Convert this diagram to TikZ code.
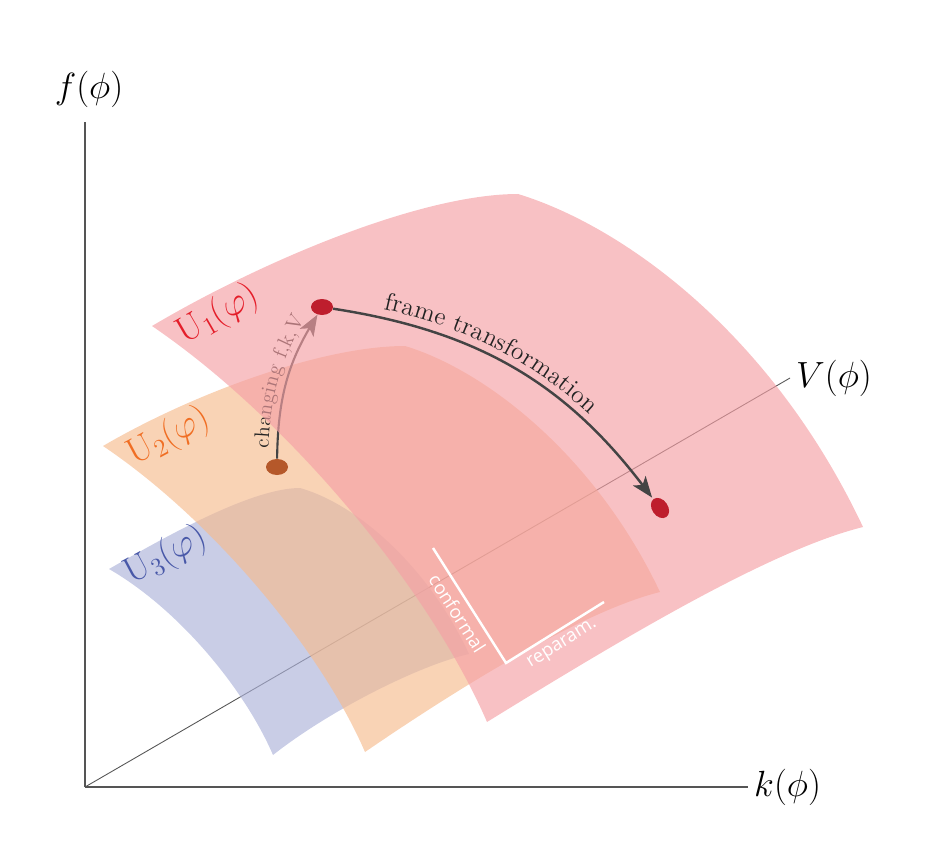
\documentclass[tikz,border=0pt]{standalone}
\usepackage{amsmath}
\usepackage{amssymb}
\usepackage{fontspec}
\usetikzlibrary{arrows.meta}
\usetikzlibrary{shapes.geometric}
\usetikzlibrary{decorations.text}
\newfontfamily\notefont{Open Sans}
\definecolor{sred}{RGB}{245,160,165}
\definecolor{sorange}{RGB}{246,187,142}
\definecolor{sblue}{RGB}{172,178,217}
\definecolor{lred}{RGB}{228,30,42}
\definecolor{lorange}{RGB}{240,110,35}
\definecolor{lblue}{RGB}{72,88,168}
\definecolor{dred}{RGB}{190,30,45}
\definecolor{dbrown}{RGB}{181,88,42}
\definecolor{agray}{RGB}{85,85,85}
\definecolor{tgray}{RGB}{68,68,68}
\definecolor{tdark}{RGB}{35,35,35}

\begin{document}
\begin{tikzpicture}[x=0.02cm, y=0.02cm,
    axis/.style={draw=agray, line width=0.7pt},
    sheet/.style={fill opacity=0.65},
    dot/.style={ellipse, inner sep=0pt, minimum width=0.44cm, minimum height=0.32cm},
    arr/.style={-{Stealth[length=12pt, width=9pt, inset=3pt]}, draw=tgray, line width=1.4pt},
    ulabel/.style={font=\huge, inner sep=0pt},
    note/.style={white, font=\notefont\fontsize{10.5}{12}\selectfont}]
  \useasboundingbox (0,0) rectangle (945,853);
  % axes
  \coordinate (O) at (85,66);
  \coordinate (ftop) at (85,731);
  \coordinate (kend) at (748,66);
  \coordinate (vend) at (790,475);
  \draw[axis] (O) -- (ftop);
  \draw[axis] (O) -- (kend);
  \draw[axis, line width=0.5pt] (O) -- (vend);
  \node (flabel) at (89,764) {\huge $f(\phi)$};
  \node[anchor=west] (klabel) at (kend) {\huge $k(\phi)$};
  \node[anchor=west] (vlabel) at (vend) {\huge $V(\phi)$};
  % U3
  \fill[sheet, sblue] (109,284) .. controls (160,313) and (250,365) .. (300,365)
    .. controls (360,348) and (430,283) .. (469,199)
    .. controls (420,188) and (330,143) .. (273,98)
    .. controls (245,163) and (180,243) .. cycle;
  \node[ulabel, lblue, rotate=28] (u3label) at (166,297) {$\mathrm{U}_3(\varphi)$};
  % U2
  \fill[sheet, sorange] (103,407) .. controls (190,458) and (320,507) .. (405,507)
    .. controls (485,483) and (595,398) .. (660,261)
    .. controls (587,243) and (470,173) .. (365,101)
    .. controls (321,203) and (213,333) .. cycle;
  \node[ulabel, lorange, rotate=28] (u2label) at (169,416) {$\mathrm{U}_2(\varphi)$};
  % points
  \node[dot] (p1) at (322,546) {};
  \node[dot, rotate=-55] (p2) at (660,345) {};
  \node[dot, fill=dbrown] (b) at (277,386) {};
  \draw[arr, line width=1.2pt] (b) to[bend left=15] (p1);
  \path[decorate, decoration={text along path, text align=center, raise=5pt,
    text={|\large\color{tdark}|changing f,k,V}}] (b) to[bend left=15] (p1);
  % U1
  \fill[sheet, sred] (152,527) .. controls (260,591) and (420,659) .. (518,659)
    .. controls (620,628) and (770,523) .. (863,326)
    .. controls (770,303) and (620,213) .. (487,131)
    .. controls (430,263) and (290,433) .. cycle;
  \node[ulabel, lred, rotate=30] (u1label) at (218,538) {$\mathrm{U}_1(\varphi)$};
  \node[dot, fill=dred] at (p1) {};
  \node[dot, rotate=-55, fill=dred] at (p2) {};
  \draw[arr, shorten >=1pt] (p1) to[bend left=22] (p2);
  \path[decorate, decoration={text along path, text align={align=left, left indent=28pt},
    raise=5pt, text={|\Large\color{tdark}|frame transformation}}] (p1) to[bend left=22] (p2);
  % conformal / reparam.
  \coordinate (c1) at (433,305);
  \coordinate (c2) at (506,190);
  \coordinate (c3) at (604,251);
  \draw[white, line width=1.4pt] (c1) -- node[note, sloped, below] (conf) {conformal} (c2)
    -- node[note, sloped, below] (rep) {reparam.} (c3);
\end{tikzpicture}
\end{document}
